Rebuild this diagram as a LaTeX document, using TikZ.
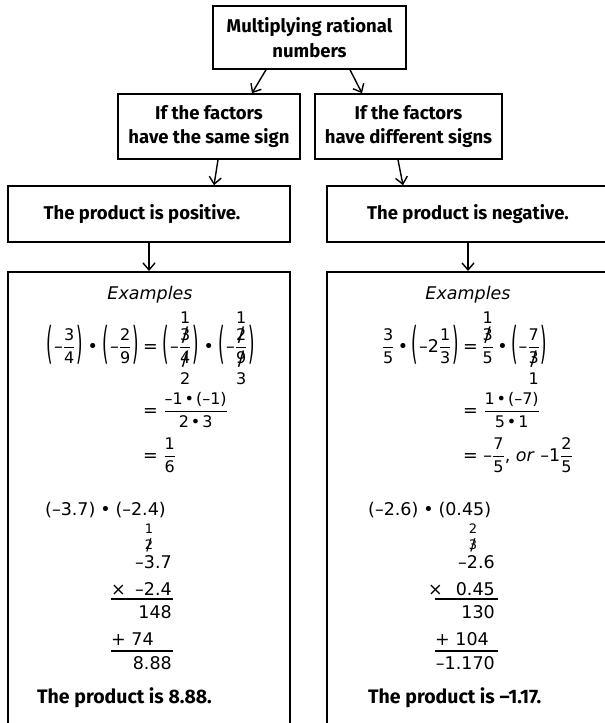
\documentclass[tikz,border=0pt]{standalone}
\usepackage{fontspec}
\usepackage{amsmath}
\usepackage{graphicx}
\usetikzlibrary{arrows.meta}
\setmainfont{Fira Sans}
\newfontfamily\hv{DejaVu Sans}
\newcommand\fs{\fontsize{16}{16}\selectfont}
\newcommand\mn{\textendash}
\newcommand\fr[2]{\ensuremath{{\nulldelimiterspace=0pt\genfrac{}{}{0.8pt}{0}{\text{\fs #1}}{\text{\fs #2}}}}}
\newcommand\lp{\raisebox{-6.8pt}{\scalebox{0.95}[2.5]{(}}\hspace{0.8pt}}
\newcommand\rp{\hspace{0.8pt}\raisebox{-6.8pt}{\scalebox{0.95}[2.5]{)}}}
\newcommand\pa[1]{\lp#1\rp}
\newcommand\bu{\hspace{0.28em}•\hspace{0.28em}}
\newcommand\bs{\hspace{0.12em}•\hspace{0.12em}}
\newcommand\st[1]{\ooalign{\hfil#1\hfil\cr\hfil\raisebox{-0.1em}{\scalebox{1.2}[1.25]{/}}\hfil}}
\newcommand\ann[3]{\ooalign{\hfil#3\hfil\cr\hfil\smash{\raisebox{#1}{#2}}\hfil}}
\tikzset{
  box/.style={draw, line width=1.6pt, align=center, inner sep=0pt,
    font=\bfseries\fontsize{18.5}{24.5}\selectfont},
  conn/.style={line width=1.4pt, -{Straight Barb[length=7pt,width=12pt,line width=1.4pt]}},
  mth/.style={inner sep=0pt, font=\hv\fontsize{17.5}{20}\selectfont},
  small/.style={inner sep=0pt, font=\hv\fontsize{13}{13}\selectfont, anchor=base},
  hand/.style={inner sep=0pt, font=\bfseries\fontsize{19.5}{22}\selectfont, anchor=base west},
  rulel/.style={line width=1.3pt}
}
\begin{document}
\begin{tikzpicture}[x=1pt,y=-1pt]
\useasboundingbox (0,0) rectangle (605,723);
\clip (0,0) rectangle (605,723);
% boxes
\node[box, minimum width=193pt, minimum height=63pt] (top) at (309.5,37.5) {Multiplying rational\\numbers};
\node[box, minimum width=182pt, minimum height=65pt] (midL) at (209,126.5) {If the factors\\have the same sign};
\node[box, minimum width=187pt, minimum height=65pt] (midR) at (408.5,126.5) {If the factors\\have different signs};
\node[box, minimum width=282pt, minimum height=56pt] (prodL) at (149,214) {The product is positive.\hspace*{14pt}};
\node[box, minimum width=282pt, minimum height=56pt] (prodR) at (468,214) {The product is negative.};
\node[box, minimum width=282pt, minimum height=470pt, anchor=north] (exL) at (149,271) {};
\node[box, minimum width=282pt, minimum height=470pt, anchor=north] (exR) at (468,271) {};
% connectors
\draw[conn] ([xshift=-43.5pt]top.south) -- ([xshift=43pt]midL.north);
\draw[conn] ([xshift=40.5pt]top.south) -- ([xshift=-46.5pt]midR.north);
\draw[conn] ([xshift=9pt]midL.south) -- ([xshift=65pt]prodL.north);
\draw[conn] ([xshift=-10.5pt]midR.south) -- ([xshift=-65pt]prodR.north);
\draw[conn] (prodL.south) -- (exL.north);
\draw[conn] (prodR.south) -- (exR.north);
% left examples
\node[inner sep=0pt, font=\hv\itshape\fontsize{17.5}{20}\selectfont, anchor=base] (exLt) at (150,299) {Examples};
\node[mth, anchor=base east] (l1a) at (139,352) {\pa{\mn\fr34}\bu\pa{\mn\fr29}};
\node[mth, anchor=base west] (l1b) at (143,352) {=\hspace{0.28em}\pa{\mn\fr{\ann{17pt}{1}{\st3}}{\ann{-20.5pt}{2}{\st4}}}\bu\pa{\mn\fr{\ann{17pt}{1}{\st2}}{\ann{-20.5pt}{3}{\st9}}}};
\node[mth, anchor=base west] (l2) at (143,416) {= \fr{\mn1\bs(\mn1)}{2\bs3}};
\node[mth, anchor=base west] (l3) at (143,461) {= \fr16};
\node[mth, anchor=base west] (calcL) at (45,515) {(\mn3.7)\bu(\mn2.4)};
\node[small] (cL1) at (149,533) {1};
\node[small] (cL2) at (149,549) {\st2};
\node[mth, anchor=base east] (aL) at (172,568) {\mn3.7};
\node[mth, anchor=base west] (bLx) at (111,595) {×};
\node[mth, anchor=base east] (bL) at (172,595) {\mn2.4};
\node[mth, anchor=base east] (cL) at (172,618) {148};
\node[mth, anchor=base west] (dL) at (111,645) {+ 74};
\node[mth, anchor=base east] (eL) at (172,669) {8.88};
\draw[rulel] (111,599) -- (173,599);
\draw[rulel] (111,651) -- (173,651);
\node[hand] (ansL) at (37,703) {The product is 8.88.};
% right examples
\node[inner sep=0pt, font=\hv\itshape\fontsize{17.5}{20}\selectfont, anchor=base] (exRt) at (468,299) {Examples};
\node[mth, anchor=base east] (r1a) at (459,352) {\fr35\hspace{0.2em}•\hspace{0.2em}\pa{\mn2\fr13}};
\node[mth, anchor=base west] (r1b) at (463,352) {=\hspace{0.2em}\fr{\ann{17pt}{1}{\st3}}{5}\hspace{0.2em}•\hspace{0.2em}\pa{\mn\fr7{\ann{-20.5pt}{1}{\st3}}}};
\node[mth, anchor=base west] (r2) at (463,416) {= \fr{1\bs(\mn7)}{5\bs1}};
\node[mth, anchor=base west] (r3) at (463,461) {= \mn\fr75, \textit{or} \mn1\fr25};
\node[mth, anchor=base west] (calcR) at (368,515) {(\mn2.6)\bu(0.45)};
\node[small] (cR1) at (473,533) {2};
\node[small] (cR2) at (473,549) {\st3};
\node[mth, anchor=base east] (aR) at (495,568) {\mn2.6};
\node[mth, anchor=base west] (bRx) at (428,595) {×};
\node[mth, anchor=base east] (bR) at (495,595) {0.45};
\node[mth, anchor=base east] (cR) at (495,618) {130};
\node[mth, anchor=base west] (dR) at (435,645) {+ 104};
\node[mth, anchor=base east] (eR) at (495,669) {\mn1.170};
\draw[rulel] (435,599) -- (498,599);
\draw[rulel] (435,651) -- (498,651);
\node[hand] (ansR) at (368,703) {The product is \mn1.17.};
\end{tikzpicture}
\end{document}
